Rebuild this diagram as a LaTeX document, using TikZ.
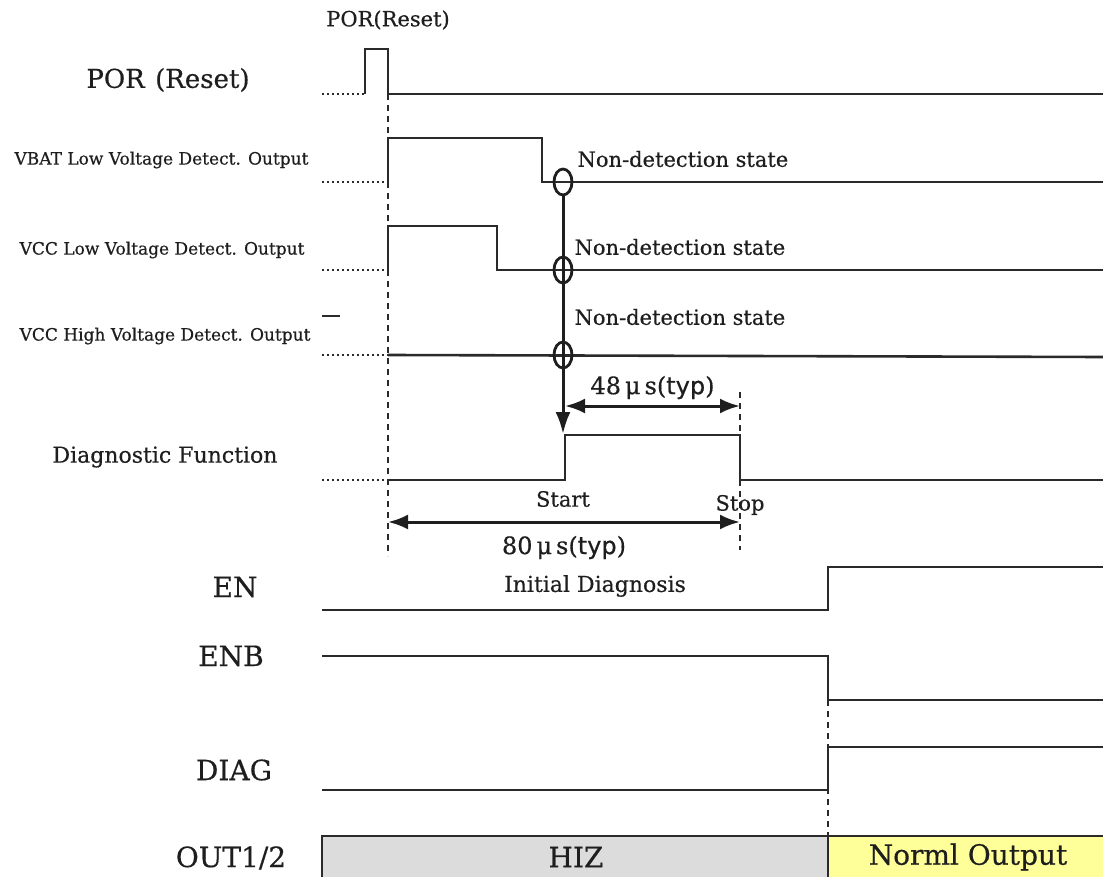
\documentclass[tikz,border=0pt]{standalone}
\usepackage{fontspec}
\setmainfont{DejaVu Serif}[FakeBold=0.5]
\setsansfont{DejaVu Sans}[FakeBold=0.5]
\usepackage{tikz}
\usetikzlibrary{arrows.meta, shapes.geometric, positioning}

\definecolor{wire}{HTML}{2A2A2A}
\definecolor{ink}{HTML}{1E1E1E}
\definecolor{hizgray}{HTML}{DCDCDC}
\definecolor{normyellow}{HTML}{FFFF99}

\tikzset{
    sig/.style={line width=2.6pt, draw=wire},
    lead/.style={line width=2.4pt, draw=wire, dash pattern=on 2pt off 3pt},
    guide/.style={line width=1.8pt, draw=wire, dash pattern=on 6pt off 5pt},
    ring/.style={draw=ink, ellipse, line width=2.8pt, minimum width=18pt, minimum height=26pt, inner sep=0pt},
    span/.style={draw=ink, line width=3pt, {Latex[length=20pt,width=15pt]}-{Latex[length=20pt,width=15pt]}},
    trig/.style={draw=ink, line width=3pt, -{Latex[length=22pt,width=15pt]}},
    biglab/.style={font=\fontsize{28}{32}\selectfont, text=ink},
    porlab/.style={font=\fontsize{26}{30}\selectfont, text=ink},
    detlab/.style={font=\fontsize{17}{20}\selectfont, text=ink},
    funlab/.style={font=\fontsize{22}{26}\selectfont, text=ink},
    txt/.style={font=\fontsize{21}{25}\selectfont, text=ink},
    timelab/.style={font=\fontsize{24}{28}\selectfont, text=ink},
    boxlab/.style={font=\fontsize{28}{32}\selectfont, text=ink},
}

\begin{document}
\begin{tikzpicture}[x=1pt, y=-1pt]
    \useasboundingbox (0,0) rectangle (1103,877);
    \clip (0,0) rectangle (1103,877);

    % Signal names on the left
    \node[txt] (porTop) at (388,20) {POR(Reset)};
    \node[porlab] (porName) at (168,80) {POR\hspace{0.4em}(Reset)};
    \node[detlab, anchor=east] (vbatName) at (312,160) {VBAT Low Voltage Detect. Output};
    \node[detlab, anchor=east] (vccLName) at (308,250) {VCC Low Voltage Detect. Output};
    \node[detlab, anchor=east] (vccHName) at (314,336) {VCC High Voltage Detect. Output};
    \node[funlab] (diagFName) at (165,457) {Diagnostic Function};
    \node[biglab] (enName) at (235,587) {EN};
    \node[biglab] (enbName) at (231,656) {ENB};
    \node[biglab] (diagName) at (234,770) {DIAG};
    \node[biglab] (outName) at (231,858) {OUT1/2};

    % POR pulse
    \draw[lead] (322,94) -- (365,94);
    \draw[sig] (365,94) -- (365,49) -- (388,49) -- (388,94) -- (1103,94);

    % Low / high voltage detect outputs
    \draw[lead] (322,182) -- (388,182);
    \draw[sig] (388,182) -- (388,138) -- (542,138) -- (542,182) -- (1103,182);
    \draw[lead] (322,270) -- (388,270);
    \draw[sig] (388,270) -- (388,226) -- (497,226) -- (497,270) -- (1103,270);
    \draw[lead] (322,355) -- (388,355);
    \draw[sig] (388,355) -- (1103,357);
    \draw[sig] (322,316) -- (340,316);

    % Diagnostic function
    \draw[lead] (322,480) -- (388,480);
    \draw[sig] (388,480) -- (565,480) -- (565,435) -- (740,435) -- (740,480) -- (1103,480);

    % EN, ENB, DIAG
    \draw[sig] (322,610) -- (828,610) -- (828,567) -- (1103,567);
    \draw[sig] (322,656) -- (828,656) -- (828,700) -- (1103,700);
    \draw[sig] (322,790) -- (828,790) -- (828,747) -- (1103,747);

    % OUT1/2 states
    \fill[hizgray] (322,836) rectangle (828,880);
    \fill[normyellow] (828,836) rectangle (1105,880);
    \draw[sig] (322,880) |- (1105,836);
    \draw[sig] (828,836) -- (828,880);
    \node[boxlab] (hiz) at (576,857) {HIZ};
    \node[boxlab] (norm) at (968,857) {Norml Output};

    % dashed guides
    \draw[guide] (388,94) -- (388,556);
    \draw[guide] (740,392) -- (740,550);
    \draw[guide] (828,700) -- (828,836);

    % detection end marks
    \node[ring] (ringA) at (563,182) {};
    \node[ring] (ringB) at (563,270) {};
    \node[ring] (ringC) at (563,355) {};
    \node[txt, anchor=west] (ndA) at (574,159) {Non-detection state};
    \node[txt, anchor=west] (ndB) at (571,247) {Non-detection state};
    \node[txt, anchor=west] (ndC) at (571,317) {Non-detection state};
    \coordinate (trigEnd) at (563,434);
    \draw[trig] (ringA.south) -- (trigEnd);

    % timing spans
    \coordinate (startL) at (565,406);
    \coordinate (stopR) at (740,406);
    \draw[span] (startL) -- node[timelab, above=2pt] (t48) {48\,μ\,s({\sffamily typ})} (stopR);
    \coordinate (porL) at (388,522);
    \coordinate (porR) at (740,522);
    \draw[span] (porL) -- node[timelab, below=9pt] (t80) {80\,μ\,s({\sffamily typ})} (porR);
    \node[txt] (start) at (563,499) {Start};
    \node[txt] (stop) at (740,505) {Stop};
    \node[funlab] (initDiag) at (595,586) {Initial Diagnosis};

\end{tikzpicture}
\end{document}
